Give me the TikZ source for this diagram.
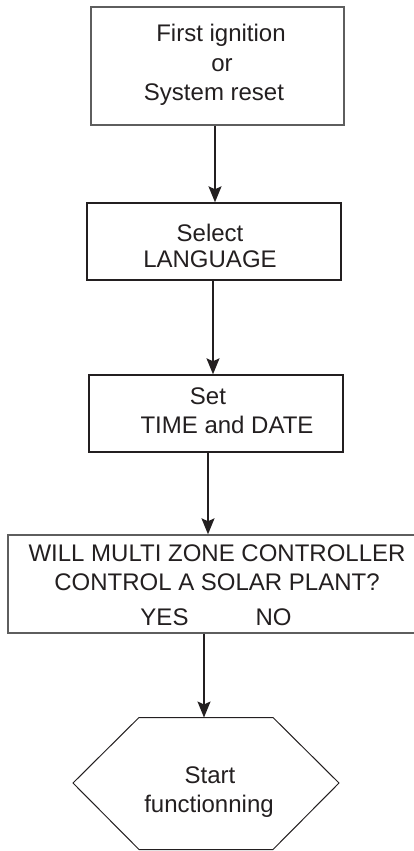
\documentclass[tikz,border=0pt]{standalone}
\usepackage{fontspec}
\setmainfont{Liberation Sans}
\usetikzlibrary{arrows.meta}
\definecolor{ink}{HTML}{231F20}
\definecolor{greyline}{HTML}{5E5E5E}
\begin{document}
\begin{tikzpicture}[x=1pt,y=-1pt,
  box/.style={draw=ink, line width=1.4pt, rectangle, inner sep=0pt},
  greybox/.style={box, draw=greyline, line width=1.8pt},
  txt/.style={anchor=base, inner sep=0pt, font=\fontsize{24pt}{29pt}\selectfont, text=ink},
  arr/.style={draw=ink, line width=1.6pt, -{Stealth[length=16pt,width=13pt,inset=3pt]}},
  hexline/.style={draw=ink, line width=1pt, line join=miter}]
\useasboundingbox (0,0) rectangle (413,851);
% boxes
\node[greybox, minimum width=253pt, minimum height=118pt] (b1) at (217.5,66) {};
\node[box, minimum width=254pt, minimum height=77pt] (b2) at (214,241.5) {};
\node[box, minimum width=254pt, minimum height=77pt] (b3) at (216,413.5) {};
\node[greybox, line width=1.4pt, minimum width=418pt, minimum height=98pt] (b4) at (217,584) {};
% hexagon
\coordinate (h1) at (139,717.5);
\coordinate (h2) at (273,717.5);
\coordinate (h3) at (339,783);
\coordinate (h4) at (273,849.5);
\coordinate (h5) at (139,849.5);
\coordinate (h6) at (73,783);
\draw[hexline] (h1) -- (h2) -- (h3) -- (h4) -- (h5) -- (h6) -- cycle;
% texts
\node[txt] (t1a) at (221,42) {First ignition};
\node[txt] (t1b) at (222,71) {or};
\node[txt] (t1c) at (214,100) {System reset};
\node[txt] (t2a) at (210,241) {Select};
\node[txt] (t2b) at (210,267) {LANGUAGE};
\node[txt] (t3a) at (208,404) {Set};
\node[txt] (t3b) at (227,433) {TIME and DATE};
\node[txt] (t4a) at (217,561) {WILL MULTI ZONE CONTROLLER};
\node[txt] (t4b) at (217,590) {CONTROL A SOLAR PLANT?};
\node[txt] (t4c) at (164.5,625) {YES};
\node[txt] (t4d) at (273.5,625) {NO};
\node[txt] (t5a) at (210,783) {Start};
\node[txt] (t5b) at (209,812) {functionning};
% arrow columns
\coordinate (x1) at (215,0);
\coordinate (x2) at (213,0);
\coordinate (x3) at (208,0);
\coordinate (x4) at (204,0);
\draw[arr] (b1.south -| x1) -- (b2.north -| x1);
\draw[arr] (b2.south -| x2) -- (b3.north -| x2);
\draw[arr] (b3.south -| x3) -- (b4.north -| x3);
\draw[arr] (b4.south -| x4) -- (h1 -| x4);
\end{tikzpicture}
\end{document}
